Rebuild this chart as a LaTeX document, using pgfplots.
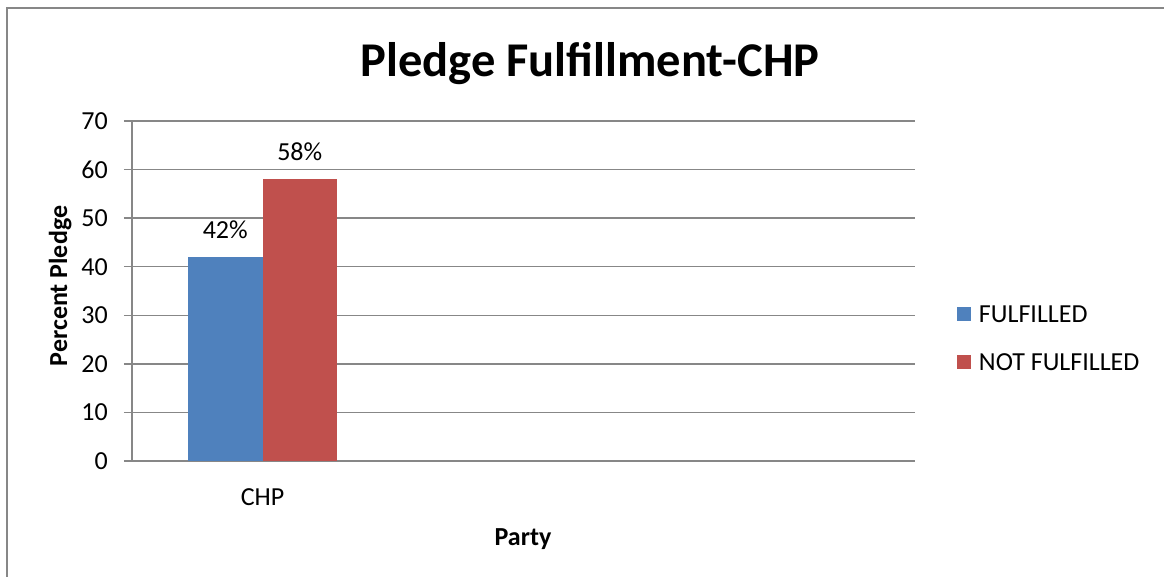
\documentclass[border=0pt]{standalone}
\usepackage{fontspec}
\setmainfont{Carlito}
\usepackage{pgfplots}
\pgfplotsset{compat=1.18}
\definecolor{barblue}{HTML}{4F81BD}
\definecolor{barred}{HTML}{C0504D}
\definecolor{gridgray}{HTML}{878787}
\begin{document}
\fontsize{26bp}{31bp}\selectfont
\begin{tikzpicture}
\path[use as bounding box] (0,0) rectangle (1164bp,577bp);
\draw[gridgray, line width=2bp] (7bp,-10bp) -- (7bp,569bp) -- (1180bp,569bp);
\begin{axis}[
  at={(132bp,116bp)}, anchor=south west,
  scale only axis, width=783bp, height=340bp,
  xmin=-0.5, xmax=2.5, ymin=0, ymax=70,
  ybar=0pt, bar width=74.5bp,
  /pgf/number format/assume math mode=true,
  xtick={0}, xticklabels={CHP},
  ytick={0,10,...,70},
  axis x line*=bottom, axis y line*=left,
  axis line style={-, gridgray, line width=1.5bp},
  ymajorgrids, grid style={gridgray, line width=1.5bp},
  xtick align=inside, ytick align=outside,
  major tick length=8bp,
  xtick style={draw=none},
  ytick style={gridgray, line width=1.5bp},
  yticklabel style={anchor=east, inner sep=0pt, xshift=-16bp},
  xticklabel style={anchor=north, inner sep=0pt, yshift=-27bp},
  nodes near coords={\pgfmathprintnumber{\pgfplotspointmeta}\%},
  nodes near coords style={anchor=south, inner sep=0pt, yshift=18bp, black},
  legend style={draw=none, fill=none, inner sep=0pt, outer sep=0pt,
    at={(1.0536,0.4617)}, anchor=north west, row sep=30bp, column sep=8bp,
    nodes={inner sep=0pt, outer sep=0pt, text height=18bp, text depth=0bp}},
  legend cell align=left,
]
\addplot[fill=barblue, draw=none, legend image code/.code={\fill[barblue] (0bp,-8bp) rectangle (14bp,6bp);}] coordinates {(0,42)};
\addplot[fill=barred, draw=none, legend image code/.code={\fill[barred] (0bp,-8bp) rectangle (14bp,6bp);}] coordinates {(0,58)};
\legend{FULFILLED, NOT FULFILLED}
\end{axis}
\node[font=\bfseries\fontsize{48.5bp}{58bp}\selectfont, anchor=base] at (590bp,500bp) {Pledge Fulfillment-CHP};
\node[font=\bfseries, anchor=base] at (523bp,32bp) {Party};
\node[font=\bfseries, anchor=base, rotate=90] at (67bp,291bp) {Percent Pledge};
\end{tikzpicture}
\end{document}
